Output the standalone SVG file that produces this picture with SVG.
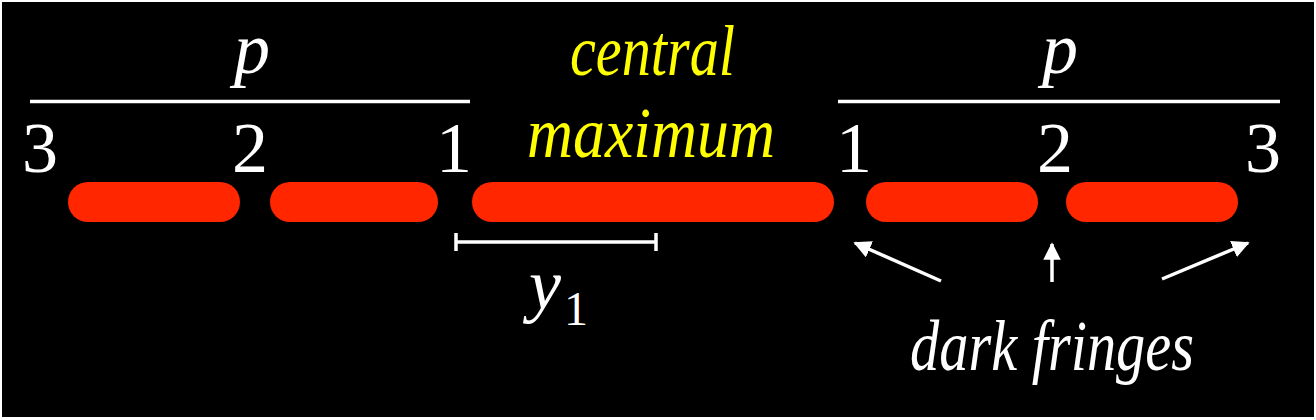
<svg xmlns="http://www.w3.org/2000/svg" width="1316" height="420" viewBox="0 0 1316 420">
<defs>
<marker id="ah" viewBox="0 0 10 10" refX="9" refY="5" markerWidth="5" markerHeight="5" orient="auto" markerUnits="strokeWidth">
<path d="M0,0 L10,5 L0,10 z" fill="#fff"/>
</marker>
</defs>
<rect x="0" y="0" width="1316" height="420" fill="#fff"/>
<rect x="2" y="2" width="1312" height="415" fill="#000"/>
<g id="bars" fill="#ff2600">
<rect x="68" y="182" width="172" height="40" rx="20"/>
<rect x="270" y="182" width="168" height="40" rx="20"/>
<rect x="472" y="182" width="362" height="40" rx="20"/>
<rect x="866" y="182" width="172" height="40" rx="20"/>
<rect x="1066" y="182" width="172" height="40" rx="20"/>
</g>
<g id="left-p">
<line x1="30" y1="101.5" x2="470" y2="101.5" stroke="#fff" stroke-width="3.5"/>
<text x="234" y="73" font-size="72" fill="#fff" font-family="Liberation Serif" font-style="italic">p</text>
<text x="22" y="172" font-size="72" fill="#fff" font-family="Liberation Serif">3</text>
<text x="232" y="172" font-size="72" fill="#fff" font-family="Liberation Serif">2</text>
<text x="436" y="172" font-size="72" fill="#fff" font-family="Liberation Serif">1</text>
</g>
<g id="right-p">
<line x1="838" y1="101.5" x2="1280" y2="101.5" stroke="#fff" stroke-width="3.5"/>
<text x="1042" y="73" font-size="72" fill="#fff" font-family="Liberation Serif" font-style="italic">p</text>
<text x="836" y="172" font-size="72" fill="#fff" font-family="Liberation Serif">1</text>
<text x="1037" y="172" font-size="72" fill="#fff" font-family="Liberation Serif">2</text>
<text x="1245" y="172" font-size="72" fill="#fff" font-family="Liberation Serif">3</text>
</g>
<g id="central">
<text x="570" y="75" font-size="72" fill="#ffff00" font-family="Liberation Serif" font-style="italic" textLength="165" lengthAdjust="spacingAndGlyphs">central</text>
<text x="527" y="157" font-size="72" fill="#ffff00" font-family="Liberation Serif" font-style="italic" textLength="248" lengthAdjust="spacingAndGlyphs">maximum</text>
</g>
<g id="y1">
<path d="M455,242 H657 M456,233 V251 M656,233 V251" stroke="#fff" stroke-width="3.5" fill="none"/>
<text x="529" y="309" font-size="72" fill="#fff" font-family="Liberation Serif" font-style="italic">y</text>
<text x="564" y="325" font-size="48" fill="#fff" font-family="Liberation Serif">1</text>
</g>
<g id="dark-fringes">
<text x="910" y="370" font-size="72" fill="#fff" font-family="Liberation Serif" font-style="italic" textLength="284" lengthAdjust="spacingAndGlyphs">dark fringes</text>
</g>
<g id="connectors" stroke="#fff" stroke-width="3.5" fill="none">
<line x1="941" y1="281" x2="855" y2="243" marker-end="url(#ah)"/>
<line x1="1052" y1="282" x2="1052" y2="244" marker-end="url(#ah)"/>
<line x1="1162" y1="279" x2="1248" y2="243" marker-end="url(#ah)"/>
</g>
</svg>
